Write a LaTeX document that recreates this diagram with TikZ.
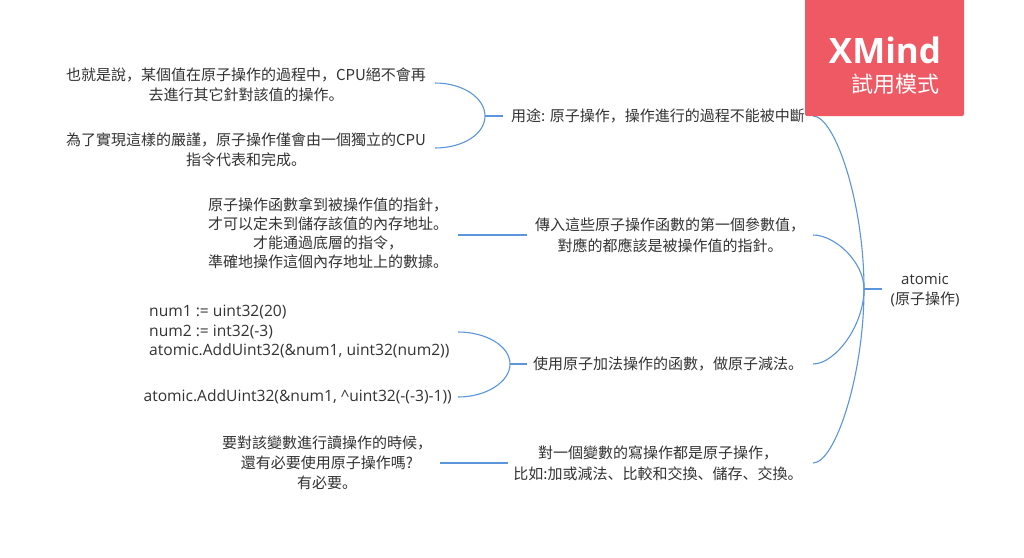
\documentclass[tikz,border=0pt]{standalone}
\usepackage{fontspec}
\newfontfamily\cjk{Noto Sans CJK SC}
\newfontfamily\lat{Open Sans}
\definecolor{linec}{RGB}{91,150,220}
\definecolor{txt}{RGB}{51,51,51}
\definecolor{wm}{RGB}{239,89,99}
\begin{document}
\begin{tikzpicture}[x=1pt,y=-1pt,
  t/.style={font=\cjk\fontsize{15}{20}\selectfont, text=txt, inner sep=0pt, align=center},
  code/.style={font=\lat\fontsize{15.6}{19.5}\selectfont, text=txt, inner sep=0pt},
  conn/.style={draw=linec, line width=1.1pt}]
\useasboundingbox (0,0) rectangle (1024,557);
\fill[white] (0,0) rectangle (1024,557);
% root
\node[t, font=\lat\fontsize{15}{20}\selectfont] (root) at (925,290) {atomic\\(\cjk 原子操作\lat)};
% branches
\node[t, anchor=west] (b1) at (511,116) {用途: 原子操作，操作進行的過程不能被中斷};
\node[t, font=\cjk\fontsize{15}{21}\selectfont] (b2) at (670,235) {傳入這些原子操作函數的第一個參數值，\\對應的都應該是被操作值的指針。};
\node[t] (b3) at (668,364) {使用原子加法操作的函數，做原子減法。};
\node[t, font=\cjk\fontsize{15}{21}\selectfont] (b4) at (658,463) {對一個變數的寫操作都是原子操作，\\比如:加或減法、比較和交換、儲存、交換。};
% children
\node[t] (c11) at (246,85) {也就是說，某個值在原子操作的過程中，CPU絕不會再\\去進行其它針對該值的操作。};
\node[t] (c12) at (246,150) {為了實現這樣的嚴謹，原子操作僅會由一個獨立的CPU\\指令代表和完成。};
\node[t, font=\cjk\fontsize{15}{19}\selectfont] (c21) at (328,233) {原子操作函數拿到被操作值的指針，\\才可以定未到儲存該值的內存地址。\\才能通過底層的指令，\\準確地操作這個內存地址上的數據。};
\node[code, align=left, anchor=west] (c31) at (149,332) {num1 := uint32(20)\\num2 := int32(-3)\\atomic.AddUint32(\&num1, uint32(num2))};
\node[code, anchor=east] (c32) at (452,397) {atomic.AddUint32(\&num1, \textasciicircum uint32(-(-3)-1))};
\node[t] (c41) at (327,463) {要對該變數進行讀操作的時候，\\還有必要使用原子操作嗎?\\有必要。};
% junctions
\coordinate (rj) at (864,289);
\coordinate (rs) at (882,289);
\coordinate (e1) at (813,116);
\coordinate (e2) at (813,235);
\coordinate (e3) at (813,364);
\coordinate (e4) at (813,463);
\coordinate (j1) at (485,116);
\coordinate (s1) at (503,116);
\coordinate (k11) at (435,83);
\coordinate (k12) at (435,148);
\coordinate (m2) at (527,235);
\coordinate (k21) at (458,235);
\coordinate (j3) at (510,364);
\coordinate (s3) at (527,364);
\coordinate (k31) at (458,332);
\coordinate (k32) at (458,397);
\coordinate (m4) at (508,463);
\coordinate (k41) at (440,463);
% connectors
\draw[conn] (rj) -- (rs);
\draw[conn] (e1) .. controls +(22,0) and +(0,-86) .. (rj);
\draw[conn] (e2) .. controls +(22,0) and +(0,-27) .. (rj);
\draw[conn] (e3) .. controls +(22,0) and +(0,37) .. (rj);
\draw[conn] (e4) .. controls +(22,0) and +(0,87) .. (rj);
\draw[conn] (j1) -- (s1);
\draw[conn] (k11) .. controls +(28,0) and +(0,-18) .. (j1);
\draw[conn] (k12) .. controls +(28,0) and +(0,18) .. (j1);
\draw[conn] (k21) -- (m2);
\draw[conn] (j3) -- (s3);
\draw[conn] (k31) .. controls +(28,0) and +(0,-18) .. (j3);
\draw[conn] (k32) .. controls +(28,0) and +(0,18) .. (j3);
\draw[conn] (k41) -- (m4);
% watermark
\fill[wm, rounded corners=2pt] (805,-6) rectangle (964,116);
\node[font=\lat\bfseries\fontsize{35}{35}\selectfont, text=white, inner sep=0pt] (xm) at (885,50) {XMind};
\node[font=\cjk\fontsize{22}{22}\selectfont, text=white, inner sep=0pt] (sy) at (895,84) {試用模式};
\end{tikzpicture}
\end{document}
